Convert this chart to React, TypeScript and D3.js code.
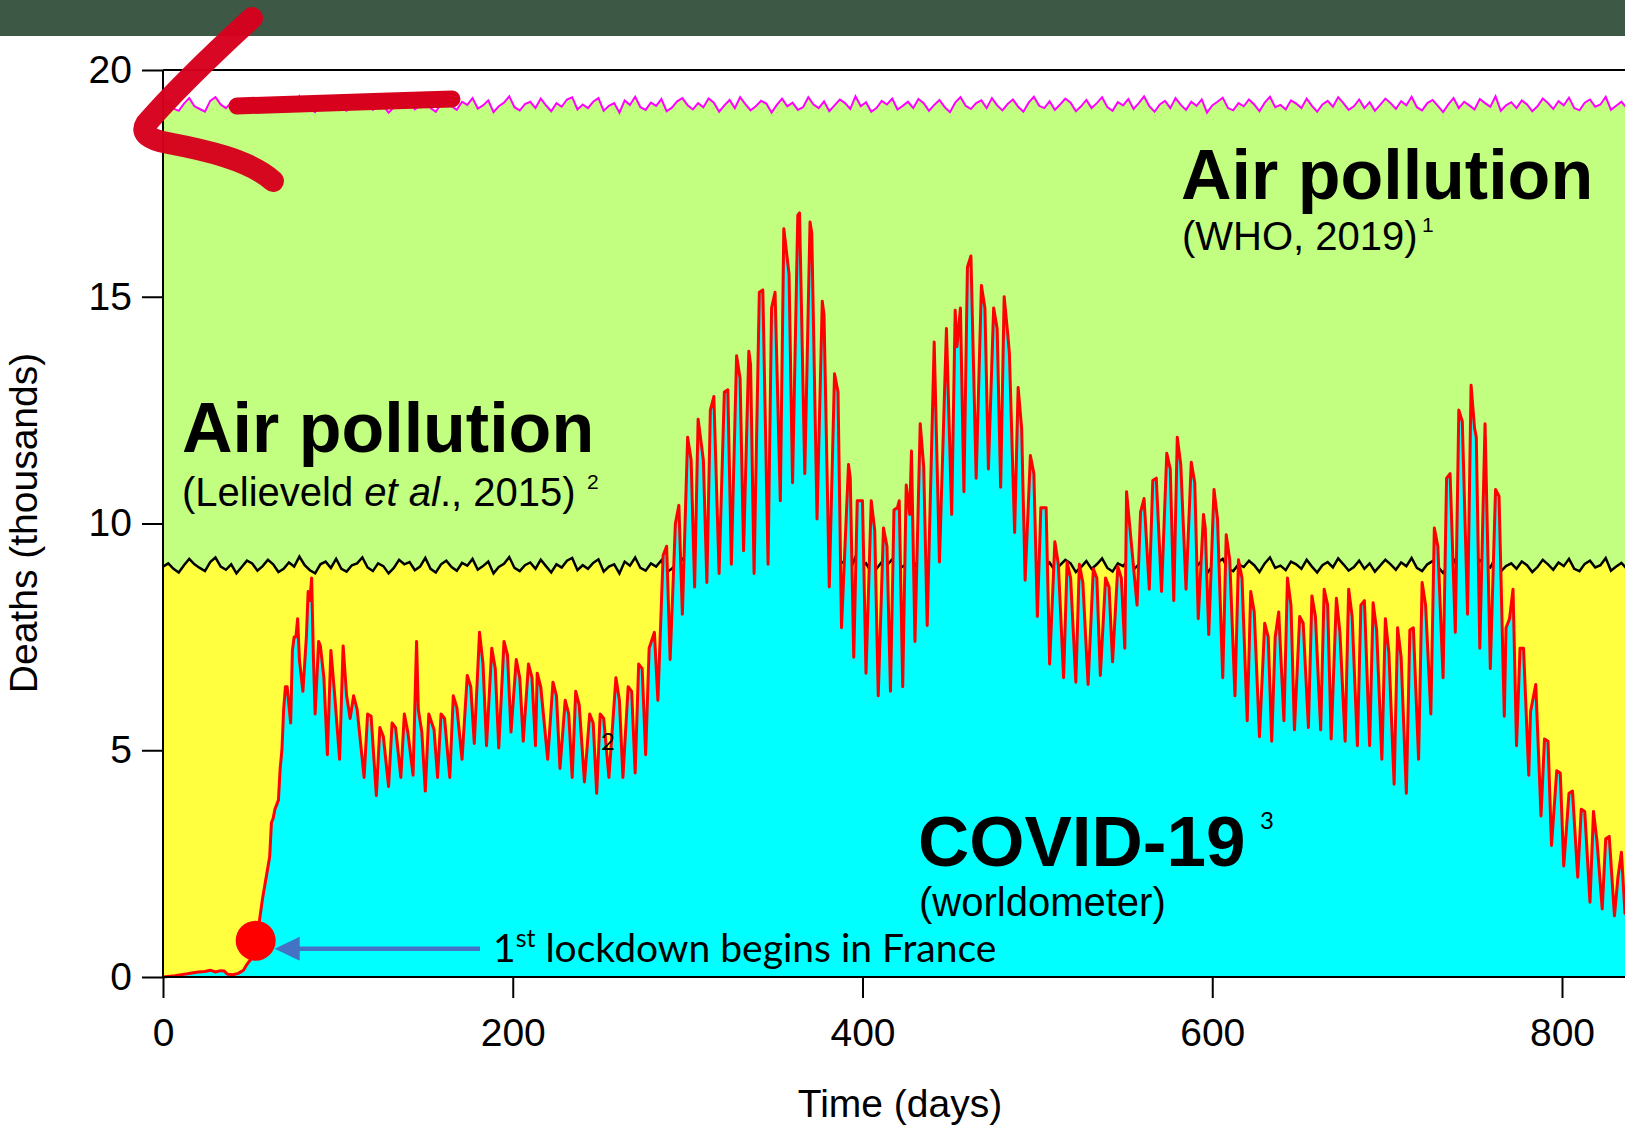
import * as d3 from "d3";
import { useEffect, useRef } from "react";

// air pollution deaths per day (thousands), one value every 3 days
const airStep = 3;
const airWho = [
  19.22, 19.3, 19.15, 19.1, 19.26, 19.38, 19.2, 19.14, 19.08, 19.32, 19.4, 19.24, 19.16, 19.28, 19.06, 19.2, 19.35, 19.27, 19.12, 19.23,
  19.36, 19.25, 19.1, 19.17, 19.31, 19.2, 19.42, 19.24, 19.13, 19.07, 19.27, 19.33, 19.18, 19.38, 19.15, 19.1, 19.25, 19.3, 19.41, 19.2,
  19.12, 19.28, 19.22, 19.06, 19.18, 19.36, 19.27, 19.31, 19.13, 19.21, 19.4, 19.16, 19.08, 19.26, 19.34, 19.2, 19.12, 19.3, 19.23, 19.38,
  19.15, 19.22, 19.33, 19.07, 19.2, 19.28, 19.42, 19.18, 19.11, 19.25, 19.3, 19.16, 19.37, 19.22, 19.09, 19.27, 19.19, 19.35, 19.4, 19.13,
  19.24, 19.16, 19.3, 19.38, 19.1, 19.21, 19.27, 19.06, 19.33, 19.23, 19.41, 19.18, 19.12, 19.28, 19.21, 19.36, 19.09, 19.17, 19.31, 19.38,
  19.22, 19.13, 19.27, 19.18, 19.37, 19.28, 19.08, 19.22, 19.34, 19.16, 19.4, 19.25, 19.11, 19.2, 19.32, 19.26, 19.06, 19.23, 19.37, 19.2,
  19.28, 19.12, 19.18, 19.4, 19.24, 19.16, 19.31, 19.09, 19.22, 19.35, 19.27, 19.14, 19.42, 19.2, 19.29, 19.08, 19.16, 19.32, 19.24, 19.37,
  19.13, 19.21, 19.3, 19.16, 19.36, 19.27, 19.1, 19.23, 19.34, 19.18, 19.07, 19.28, 19.4, 19.21, 19.14, 19.27, 19.33, 19.16, 19.38, 19.22,
  19.11, 19.25, 19.35, 19.19, 19.08, 19.28, 19.41, 19.21, 19.16, 19.31, 19.12, 19.24, 19.37, 19.28, 19.09, 19.2, 19.34, 19.16, 19.27, 19.4,
  19.18, 19.1, 19.29, 19.22, 19.36, 19.14, 19.27, 19.42, 19.2, 19.08, 19.24, 19.32, 19.16, 19.38, 19.23, 19.12, 19.3, 19.21, 19.35, 19.06,
  19.22, 19.3, 19.39, 19.16, 19.11, 19.27, 19.2, 19.35, 19.24, 19.09, 19.28, 19.41, 19.18, 19.23, 19.13, 19.33, 19.26, 19.16, 19.37, 19.21,
  19.08, 19.24, 19.32, 19.19, 19.4, 19.27, 19.12, 19.2, 19.35, 19.16, 19.29, 19.1, 19.23, 19.37, 19.27, 19.14, 19.31, 19.22, 19.41, 19.18,
  19.11, 19.27, 19.34, 19.21, 19.07, 19.24, 19.38, 19.16, 19.3, 19.22, 19.13, 19.36, 19.27, 19.19, 19.42, 19.1, 19.22, 19.29, 19.16, 19.33,
  19.24, 19.09, 19.2, 19.37, 19.27, 19.14, 19.31, 19.22, 19.39, 19.16, 19.11, 19.28, 19.35, 19.19, 19.24, 19.41, 19.12, 19.21, 19.3, 19.16,
  19.26,
];
const airLelieveld = [
  9.05, 9.12, 9.0, 8.92, 9.08, 9.22, 9.1, 9.02, 8.95, 9.15, 9.25, 9.05, 8.98, 9.1, 8.9, 9.04, 9.18, 9.12, 8.96, 9.06,
  9.2, 9.1, 8.93, 9.0, 9.14, 9.05, 9.27, 9.08, 8.97, 8.9, 9.1, 9.16, 9.02, 9.22, 9.0, 8.94, 9.08, 9.12, 9.25, 9.03,
  8.95, 9.12, 9.06, 8.9, 9.02, 9.2, 9.1, 9.15, 8.97, 9.05, 9.24, 9.0, 8.92, 9.1, 9.18, 9.04, 8.96, 9.13, 9.07, 9.22,
  8.98, 9.06, 9.16, 8.9, 9.04, 9.11, 9.26, 9.02, 8.95, 9.08, 9.14, 9.0, 9.2, 9.06, 8.92, 9.1, 9.03, 9.18, 9.24, 8.97,
  9.08, 9.0, 9.13, 9.21, 8.94, 9.05, 9.1, 8.9, 9.16, 9.07, 9.25, 9.02, 8.96, 9.12, 9.05, 9.19, 8.93, 9.0, 9.14, 9.22,
  9.06, 8.97, 9.1, 9.02, 9.2, 9.12, 8.92, 9.05, 9.17, 9.0, 9.24, 9.08, 8.95, 9.03, 9.15, 9.1, 8.9, 9.06, 9.2, 9.04,
  9.12, 8.96, 9.02, 9.23, 9.08, 9.0, 9.14, 8.93, 9.06, 9.19, 9.1, 8.98, 9.26, 9.04, 9.12, 8.92, 9.0, 9.15, 9.08, 9.21,
  8.97, 9.05, 9.13, 9.0, 9.2, 9.1, 8.94, 9.07, 9.17, 9.02, 8.91, 9.12, 9.24, 9.05, 8.98, 9.1, 9.16, 9.0, 9.22, 9.06,
  8.95, 9.09, 9.18, 9.03, 8.92, 9.11, 9.25, 9.05, 9.0, 9.14, 8.96, 9.08, 9.2, 9.12, 8.93, 9.04, 9.17, 9.0, 9.1, 9.23,
  9.02, 8.94, 9.12, 9.06, 9.19, 8.98, 9.1, 9.26, 9.04, 8.92, 9.08, 9.15, 9.0, 9.21, 9.07, 8.96, 9.13, 9.05, 9.18, 8.9,
  9.06, 9.14, 9.22, 9.0, 8.95, 9.1, 9.04, 9.18, 9.08, 8.93, 9.12, 9.25, 9.02, 9.07, 8.97, 9.16, 9.1, 9.0, 9.2, 9.05,
  8.92, 9.08, 9.15, 9.03, 9.23, 9.1, 8.96, 9.04, 9.18, 9.0, 9.12, 8.94, 9.07, 9.2, 9.1, 8.98, 9.14, 9.06, 9.24, 9.02,
  8.95, 9.1, 9.17, 9.05, 8.91, 9.08, 9.21, 9.0, 9.13, 9.06, 8.97, 9.19, 9.1, 9.03, 9.25, 8.94, 9.06, 9.12, 9.0, 9.16,
  9.08, 8.93, 9.04, 9.2, 9.1, 8.98, 9.14, 9.06, 9.22, 9.0, 8.95, 9.11, 9.18, 9.03, 9.08, 9.24, 8.96, 9.05, 9.13, 9.0,
  9.1,
];

// worldometer daily COVID-19 deaths, [day, thousands]
const covid: [number, number][] = [
  [0, 0], [7, 0.03], [14, 0.07], [20, 0.11], [24, 0.12], [27, 0.15], [30, 0.11], [33, 0.14], [35, 0.13], [37, 0.06],
  [40, 0.05], [43, 0.08], [46, 0.15], [48, 0.28], [50, 0.38], [52, 0.65], [53, 0.8], [55, 1.2], [57, 1.75], [59, 2.2],
  [61, 2.65], [62, 3.4], [63, 3.5], [64, 3.7], [66, 3.9], [67, 4.6], [68, 5.0], [69, 5.9], [70, 6.4], [71, 6.4],
  [72, 6.0], [73, 5.6], [74, 7.2], [75, 7.5], [76, 7.5], [77, 7.9], [78, 7.0], [80, 6.3], [82, 7.5], [83, 8.5],
  [84, 8.3], [85, 8.8], [86, 7.05], [87, 5.8], [89, 7.4], [90, 7.3], [92, 6.6], [94, 4.9], [96, 7.2], [98, 6.3],
  [101, 4.8], [103, 7.3], [105, 6.2], [107, 5.7], [109, 6.2], [111, 5.9], [115, 4.4], [117, 5.8], [119, 5.75], [122, 4.0],
  [124, 5.5], [126, 5.3], [129, 4.2], [131, 5.6], [133, 5.5], [136, 4.4], [138, 5.8], [140, 5.4], [143, 4.45], [145, 7.4],
  [146, 5.9], [148, 5.4], [150, 4.1], [152, 5.8], [155, 5.45], [157, 4.4], [159, 5.8], [161, 5.7], [164, 4.4], [166, 6.2],
  [168, 5.95], [171, 4.8], [174, 6.65], [176, 6.4], [178, 5.15], [181, 7.6], [183, 6.9], [185, 5.1], [188, 7.25], [190, 6.8],
  [192, 5.05], [195, 7.4], [197, 7.1], [199, 5.4], [202, 7.0], [204, 6.6], [206, 5.2], [209, 6.9], [211, 6.6], [213, 5.1],
  [214, 6.7], [216, 6.4], [220, 4.8], [223, 6.5], [225, 6.2], [227, 4.6], [230, 6.1], [232, 5.8], [234, 4.4], [236, 6.3],
  [238, 6.0], [241, 4.3], [244, 5.8], [246, 5.6], [248, 4.05], [250, 5.8], [252, 5.7], [255, 4.4], [259, 6.6], [261, 6.1],
  [263, 4.4], [266, 6.4], [268, 6.3], [270, 4.5], [272, 6.9], [274, 6.8], [276, 4.9], [278, 7.25], [281, 7.6], [283, 6.1],
  [286, 9.3], [288, 9.5], [290, 7.0], [293, 10.0], [295, 10.4], [297, 8.0], [300, 11.9], [302, 11.4], [304, 8.6], [306, 12.3],
  [309, 11.4], [311, 8.7], [313, 12.5], [315, 12.8], [318, 8.9], [321, 12.9], [323, 12.95], [325, 9.1], [328, 13.7], [330, 13.2],
  [332, 9.4], [335, 13.8], [336, 13.5], [338, 8.9], [341, 15.1], [343, 15.15], [346, 9.1], [348, 14.75], [350, 15.1], [353, 10.5],
  [355, 16.5], [358, 15.5], [360, 10.9], [363, 16.8], [364, 16.85], [367, 11.1], [370, 16.65], [371, 16.4], [374, 10.1], [377, 14.9],
  [378, 14.6], [381, 8.6], [384, 13.3], [386, 12.9], [388, 7.7], [392, 11.3], [393, 11.0], [395, 7.05], [397, 10.5], [400, 10.5],
  [402, 6.7], [405, 10.5], [407, 9.85], [409, 6.2], [412, 9.9], [414, 9.5], [416, 6.3], [418, 10.3], [420, 10.35], [421, 10.5],
  [423, 6.4], [425, 10.85], [427, 10.2], [428, 11.6], [430, 7.4], [433, 12.2], [435, 11.25], [437, 7.75], [441, 14.0], [444, 9.15],
  [448, 14.3], [451, 10.2], [453, 14.7], [454, 13.9], [456, 14.75], [458, 10.7], [460, 15.65], [462, 15.9], [465, 11.0], [468, 15.25],
  [470, 14.75], [472, 11.2], [475, 14.75], [477, 14.3], [479, 10.8], [481, 15.0], [483, 14.2], [484, 13.75], [487, 9.8], [489, 13.0],
  [491, 12.1], [493, 8.75], [496, 11.5], [498, 11.1], [500, 7.95], [502, 10.35], [505, 10.35], [507, 6.9], [510, 9.6], [512, 9.1],
  [515, 6.6], [517, 9.15], [519, 8.8], [522, 6.5], [524, 9.1], [526, 8.7], [529, 6.45], [532, 9.0], [534, 8.8], [536, 6.65],
  [539, 8.8], [541, 8.6], [543, 6.95], [546, 9.05], [548, 8.8], [550, 7.25], [551, 10.7], [554, 9.45], [557, 8.2], [559, 10.25],
  [561, 10.55], [564, 8.55], [566, 10.95], [568, 11.0], [571, 8.5], [574, 11.55], [576, 11.2], [578, 8.3], [580, 11.9], [582, 11.3],
  [585, 8.55], [588, 11.35], [590, 10.9], [592, 7.9], [595, 10.2], [596, 9.9], [598, 7.55], [601, 10.75], [603, 10.1], [606, 6.6],
  [608, 9.75], [610, 9.2], [613, 6.2], [615, 9.2], [617, 8.8], [620, 5.65], [622, 8.5], [624, 8.05], [627, 5.3], [630, 7.8],
  [632, 7.5], [634, 5.2], [636, 7.5], [638, 8.05], [641, 5.65], [643, 8.8], [645, 8.2], [647, 5.45], [650, 7.95], [652, 7.8],
  [655, 5.5], [657, 8.4], [659, 7.95], [662, 5.45], [664, 8.55], [666, 8.2], [668, 5.25], [671, 8.35], [673, 7.6], [676, 5.2],
  [678, 8.55], [680, 7.95], [683, 5.1], [685, 8.2], [687, 8.3], [690, 5.1], [692, 8.25], [694, 7.65], [697, 4.8], [699, 7.9],
  [701, 7.15], [704, 4.25], [706, 7.7], [708, 7.05], [711, 4.05], [713, 7.65], [715, 7.7], [718, 4.8], [720, 8.7], [722, 8.2],
  [725, 5.8], [727, 9.9], [729, 9.5], [732, 6.6], [734, 11.0], [736, 11.1], [739, 7.6], [741, 12.5], [743, 12.25], [746, 8.0],
  [748, 13.05], [750, 12.1], [751, 11.9], [753, 7.25], [756, 12.2], [759, 6.8], [762, 10.75], [764, 10.6], [767, 5.75], [768, 7.7],
  [770, 7.9], [772, 8.55], [774, 5.1], [776, 7.25], [778, 7.25], [781, 4.45], [782, 5.85], [785, 6.45], [788, 3.55], [790, 5.25],
  [792, 5.2], [794, 2.9], [797, 4.55], [799, 4.5], [801, 2.45], [804, 4.05], [806, 4.1], [809, 2.2], [811, 3.7], [813, 3.65],
  [816, 1.65], [818, 3.65], [820, 3.0], [823, 1.5], [825, 3.05], [827, 3.1], [830, 1.35], [832, 2.2], [834, 2.75], [836, 1.4],
  [838, 2.5], [840, 3.0],
];

const xTicks = [0, 200, 400, 600, 800];
const yTicks = [0, 5, 10, 15, 20];
const lockdown: [number, number] = [53, 0.8];

const W = 1625;
const H = 1126;
const arial = "'Liberation Sans', Arial, sans-serif";
const calibri = "Lato, 'Open Sans', sans-serif";

export default function App() {
  const xAxisRef = useRef<SVGGElement>(null);
  const yAxisRef = useRef<SVGGElement>(null);

  const x = d3.scaleLinear().domain([0, 800]).range([163, 1562]);
  const y = d3.scaleLinear().domain([0, 20]).range([977, 70]);

  const airArea = d3
    .area<number>()
    .x((d, i) => x(i * airStep))
    .y0(y(0))
    .y1((d) => y(d));
  const airLine = d3
    .line<number>()
    .x((d, i) => x(i * airStep))
    .y((d) => y(d));
  const covidArea = d3
    .area<[number, number]>()
    .x((d) => x(d[0]))
    .y0(y(0))
    .y1((d) => y(d[1]));
  const covidLine = d3
    .line<[number, number]>()
    .x((d) => x(d[0]))
    .y((d) => y(d[1]));

  useEffect(() => {
    if (!xAxisRef.current || !yAxisRef.current) return;
    // 축 그리기
    const gx = d3.select(xAxisRef.current);
    gx.selectAll("*").remove();
    gx.call(d3.axisBottom(x).tickValues(xTicks).tickSize(21).tickPadding(20).tickFormat(d3.format("d")));
    gx.select(".domain").remove();
    gx.selectAll("line").attr("stroke", "#000").attr("stroke-width", 2);
    gx.selectAll("text").attr("font-size", 39).attr("font-family", arial).attr("fill", "#000");

    const gy = d3.select(yAxisRef.current);
    gy.selectAll("*").remove();
    gy.call(d3.axisLeft(y).tickValues(yTicks).tickSize(21).tickPadding(10).tickFormat(d3.format("d")));
    gy.select(".domain").remove();
    gy.selectAll("line").attr("stroke", "#000").attr("stroke-width", 2);
    gy.selectAll("text").attr("font-size", 39).attr("font-family", arial).attr("fill", "#000");
  }, []);

  const dotX = x(lockdown[0]);
  const dotY = y(lockdown[1]);
  const dotR = 20;

  return (
    <svg
      width={W}
      height={H}
      style={{ position: "absolute", left: 0, top: 0, background: "#fff" }}
    >
      <rect x={0} y={0} width={W} height={36} fill="#3d5946" />

      {/* areas */}
      <path d={airArea(airWho) ?? ""} fill="#c2ff80" />
      <path d={airLine(airWho) ?? ""} fill="none" stroke="#ff00ff" strokeWidth={2} />
      <path d={airArea(airLelieveld) ?? ""} fill="#ffff40" />
      <path d={airLine(airLelieveld) ?? ""} fill="none" stroke="#000" strokeWidth={2.5} />
      <path d={covidArea(covid) ?? ""} fill="#00ffff" />
      <path
        d={covidLine(covid) ?? ""}
        fill="none"
        stroke="#ff0000"
        strokeWidth={3}
        strokeLinejoin="round"
      />

      {/* frame */}
      <line x1={x(0)} x2={W} y1={y(20)} y2={y(20)} stroke="#000" strokeWidth={2} />
      <line x1={x(0)} x2={W} y1={y(0)} y2={y(0)} stroke="#000" strokeWidth={2} />
      <line x1={x(0)} x2={x(0)} y1={y(20)} y2={y(0)} stroke="#000" strokeWidth={2} />
      <g ref={xAxisRef} transform={`translate(0,${y(0)})`} />
      <g ref={yAxisRef} transform={`translate(${x(0)},0)`} />

      <text x={900} y={1117} textAnchor="middle" fontFamily={arial} fontSize={39}>
        Time (days)
      </text>
      <text
        transform="translate(37,523) rotate(-90)"
        textAnchor="middle"
        fontFamily={arial}
        fontSize={39}
      >
        Deaths (thousands)
      </text>

      {/* labels */}
      <text x={1181} y={199} fontFamily={arial} fontSize={70} fontWeight="bold">
        Air pollution
      </text>
      <text x={1182} y={250} fontFamily={arial} fontSize={40}>
        (WHO, 2019)
      </text>
      <text x={1422} y={232} fontFamily={arial} fontSize={21}>
        1
      </text>

      <text x={182} y={452} fontFamily={arial} fontSize={70} fontWeight="bold">
        Air pollution
      </text>
      <text x={182} y={506} fontFamily={arial} fontSize={40}>
        (Lelieveld <tspan fontStyle="italic">et al</tspan>., 2015)
      </text>
      <text x={587} y={489} fontFamily={arial} fontSize={21}>
        2
      </text>

      <text x={918} y={866} fontFamily={arial} fontSize={71} fontWeight="bold">
        COVID-19
      </text>
      <text x={1260} y={829} fontFamily={calibri} fontSize={24}>
        3
      </text>
      <text x={919} y={916} fontFamily={arial} fontSize={40}>
        (worldometer)
      </text>
      <text x={608} y={750} textAnchor="middle" fontFamily={calibri} fontSize={24}>
        2
      </text>

      {/* lockdown marker */}
      <circle cx={dotX} cy={dotY} r={dotR} fill="#ff0000" />
      <line
        x1={dotX + dotR + 22}
        x2={480}
        y1={dotY + 8}
        y2={dotY + 8}
        stroke="#4472c4"
        strokeWidth={4.5}
      />
      <path
        d={`M${dotX + dotR - 1},${dotY + 8} L${dotX + dotR + 24},${dotY - 4} L${dotX + dotR + 24},${dotY + 20} Z`}
        fill="#4472c4"
      />
      <text x={493} y={962} fontFamily={calibri} fontSize={39}>
        1
        <tspan fontSize={25} dy={-15}>
          st
        </tspan>
        <tspan dy={15}> lockdown begins in France</tspan>
      </text>

      {/* hand-drawn red marks */}
      <path
        d="M252,18 C215,52 175,90 146,124 C140,133 150,140 168,143 C205,150 250,160 273,181"
        fill="none"
        stroke="#d7001d"
        strokeWidth={22}
        strokeLinecap="round"
        strokeLinejoin="round"
        opacity={0.97}
      />
      <path
        d="M237,106 C300,104 380,101 452,99"
        fill="none"
        stroke="#d7001d"
        strokeWidth={17}
        strokeLinecap="round"
      />
    </svg>
  );
}
